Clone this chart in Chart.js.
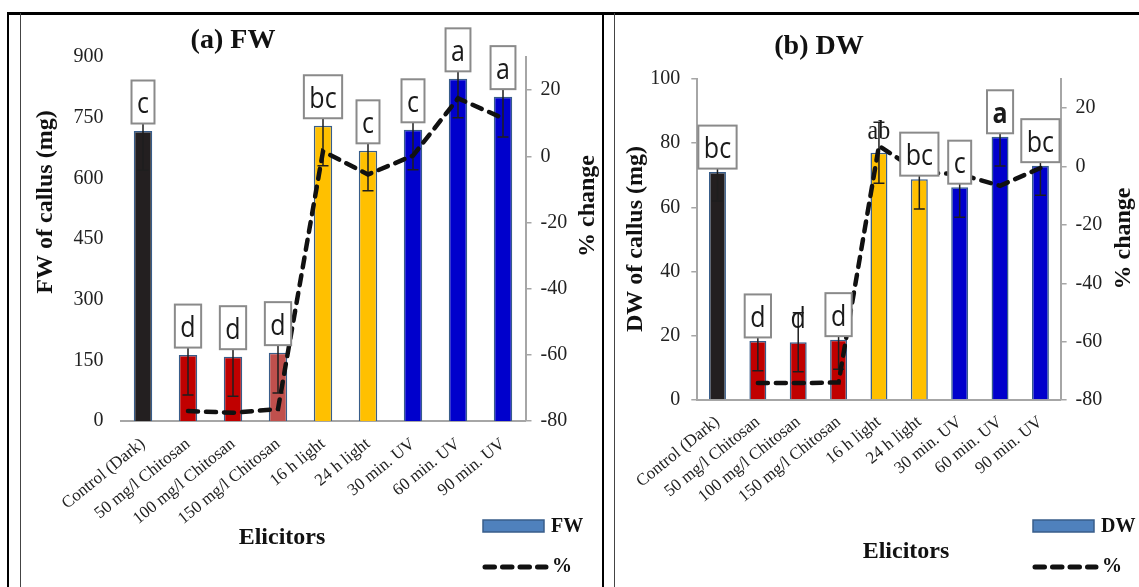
<!DOCTYPE html>
<html>
<head>
<meta charset="utf-8">
<script src="https://cdn.jsdelivr.net/npm/chart.js@4"></script>
<style>
body { margin: 0; background: #fff; width: 1139px; height: 587px; overflow: hidden; position: relative; }
.ln { position: absolute; background: #000; }
canvas { position: absolute; }
</style>
</head>
<body>
<div class="ln" style="left:7px;top:12px;width:1132px;height:2.5px"></div>
<div class="ln" style="left:7px;top:12px;width:2px;height:575px"></div>
<div class="ln" style="left:19.5px;top:13px;width:1.2px;height:574px;background:#444"></div>
<div class="ln" style="left:601.5px;top:12px;width:2.5px;height:575px"></div>
<div class="ln" style="left:613.5px;top:13px;width:1.2px;height:574px;background:#444"></div>
<canvas id="fw" width="580" height="572" style="left:21px;top:15px"></canvas>
<canvas id="dw" width="523" height="572" style="left:616px;top:15px"></canvas>
<script>
const categories = ['Control (Dark)', '50 mg/l Chitosan', '100 mg/l Chitosan', '150 mg/l Chitosan',
    '16 h light', '24 h light', '30 min. UV', '60 min. UV', '90 min. UV'];

const fwValues = [717, 163, 159, 169, 730, 668, 720, 846, 802];
const fwErrors = [97, 99, 98, 100, 99, 99, 99, 96, 100];
const fwChange = [null, -77, -77.5, -76.4, 1.5, -5.5, 0.2, 17.5, 11.5];
const fwLetters = ['c', 'd', 'd', 'd', 'bc', 'c', 'c', 'a', 'a'];

const dwValues = [71, 18.4, 18, 18.8, 77, 68.8, 66.3, 82, 73];
const dwErrors = [9, 9.3, 9.2, 9.2, 9.5, 9.3, 9.4, 9.1, 9.2];
const dwChange = [null, -74.2, -74.2, -74, 7.1, -2, -2.6, -6.6, -0.5];
const dwLetters = ['bc', 'd', 'd', 'd', 'ab', 'bc', 'c', 'a', 'bc'];

const fwTicks = [0, 150, 300, 450, 600, 750, 900];
const dwTicks = [0, 20, 40, 60, 80, 100];
const changeTicks = [-80, -60, -40, -20, 0, 20];

const fwColors = ['#231f20', '#c00000', '#c00000', '#c0504d', '#ffc000', '#ffc000', '#0000cc', '#0000cc', '#0000cc'];
const dwColors = ['#231f20', '#c00000', '#c00000', '#c00000', '#ffc000', '#ffc000', '#0000cc', '#0000cc', '#0000cc'];

const serif = "'Liberation Serif', 'Times New Roman', serif";
const sans = "'Open Sans', 'Liberation Sans', sans-serif";
const axisGray = '#a6a6a6';

function panelPlugin(cfg) {
    return {
        id: 'panel_' + cfg.name,
        afterDatasetDraw(chart, args) {
            // error bars, right after the bars so the % line sits on top
            if (args.index !== 0) return;
            const ctx = chart.ctx;
            const y = chart.scales.y;
            ctx.save();
            ctx.strokeStyle = '#1e1e1e';
            ctx.lineWidth = 1.5;
            chart.getDatasetMeta(0).data.forEach((bar, i) => {
                const yt = y.getPixelForValue(cfg.values[i] + cfg.errors[i]);
                const yb = y.getPixelForValue(cfg.values[i] - cfg.errors[i]);
                ctx.beginPath();
                ctx.moveTo(bar.x, yt); ctx.lineTo(bar.x, yb);
                ctx.moveTo(bar.x - 5.5, yt); ctx.lineTo(bar.x + 5.5, yt);
                ctx.moveTo(bar.x - 5.5, yb); ctx.lineTo(bar.x + 5.5, yb);
                ctx.stroke();
            });
            ctx.restore();
        },
        afterDatasetsDraw(chart) {
            // significance letters
            const ctx = chart.ctx;
            chart.getDatasetMeta(0).data.forEach((bar, i) => {
                const txt = cfg.letters[i];
                const boxBottom = bar.y - cfg.boxGap;
                const base = boxBottom - 10.5;
                ctx.save();
                ctx.textAlign = 'center';
                ctx.textBaseline = 'alphabetic';
                if (cfg.noBox.includes(i)) {
                    ctx.font = (cfg.serifIdx.includes(i) ? '24px ' + serif : '25px ' + sans);
                } else {
                    ctx.font = (cfg.boldIdx.includes(i) ? 'bold ' : '') + '25px ' + sans;
                    const w = ctx.measureText(txt).width + 11;
                    ctx.fillStyle = '#fff';
                    ctx.fillRect(bar.x - w / 2, boxBottom - 43, w, 43);
                    ctx.strokeStyle = '#8a8a8a';
                    ctx.lineWidth = 2;
                    ctx.strokeRect(bar.x - w / 2, boxBottom - 43, w, 43);
                }
                ctx.fillStyle = '#1a1a1a';
                ctx.translate(bar.x, base);
                ctx.scale(1, 1.15);
                ctx.fillText(txt, 0, 0);
                ctx.restore();
            });
        },
        afterDraw(chart) {
            const ctx = chart.ctx;
            ctx.save();
            ctx.fillStyle = '#111';
            ctx.textAlign = 'center';
            ctx.textBaseline = 'middle';
            ctx.font = 'bold 28px ' + serif;
            ctx.fillText(cfg.title, cfg.titlePos[0], cfg.titlePos[1]);
            ctx.font = 'bold 24px ' + serif;
            ctx.fillText('Elicitors', cfg.xTitlePos[0], cfg.xTitlePos[1]);
            [[cfg.yTitle, cfg.yTitlePos], ['% change', cfg.y2TitlePos]].forEach(([t, p]) => {
                ctx.save();
                ctx.translate(p[0], p[1]);
                ctx.rotate(-Math.PI / 2);
                ctx.fillText(t, 0, 0);
                ctx.restore();
            });
            // legend
            const [lx, ly] = cfg.legendPos;
            ctx.fillStyle = '#4f81bd';
            ctx.fillRect(lx, ly, 61, 12);
            ctx.strokeStyle = '#385d8a';
            ctx.lineWidth = 1.5;
            ctx.strokeRect(lx, ly, 61, 12);
            ctx.fillStyle = '#111';
            ctx.textAlign = 'left';
            ctx.font = 'bold 20px ' + serif;
            ctx.fillText(cfg.name, lx + 68, ly + 7);
            ctx.strokeStyle = '#111';
            ctx.lineWidth = 5;
            ctx.lineCap = 'round';
            ctx.setLineDash([9.5, 8]);
            ctx.beginPath();
            ctx.moveTo(lx + 2, ly + 47);
            ctx.lineTo(lx + 63, ly + 47);
            ctx.stroke();
            ctx.setLineDash([]);
            ctx.fillText('%', lx + 69, ly + 47);
            ctx.restore();
        }
    };
}

function makePanel(canvasId, cfg) {
    const ctx = document.getElementById(canvasId).getContext('2d');
    return new Chart(ctx, {
        type: 'bar',
        data: {
            labels: categories,
            datasets: [
                {
                    label: cfg.name,
                    data: cfg.values,
                    backgroundColor: cfg.colors,
                    borderColor: '#385d8a',
                    borderWidth: 1.5,
                    categoryPercentage: 1,
                    barPercentage: cfg.barPct,
                    yAxisID: 'y',
                    order: 2
                },
                {
                    type: 'line',
                    label: '%',
                    data: cfg.change,
                    yAxisID: 'y2',
                    borderColor: '#111',
                    borderWidth: 4.5,
                    borderDash: [10, 8],
                    borderCapStyle: 'round',
                    pointRadius: 0,
                    tension: 0,
                    order: 1
                }
            ]
        },
        options: {
            responsive: false,
            animation: false,
            layout: { padding: { top: cfg.padTop, left: 0, right: 0, bottom: 0 } },
            plugins: { legend: { display: false }, tooltip: { enabled: false } },
            scales: {
                x: {
                    grid: { display: false, drawTicks: false },
                    border: { color: axisGray, width: 2 },
                    ticks: { font: { family: serif, size: 17 }, color: '#222', maxRotation: 39, minRotation: 39, padding: cfg.xPad, autoSkip: false },
                    afterFit: s => { s.height = cfg.xHeight; }
                },
                y: {
                    position: 'left',
                    min: cfg.yMin,
                    max: cfg.yMax,
                    afterBuildTicks: s => { s.ticks = cfg.ticks.map(v => ({ value: v })); },
                    grid: { drawOnChartArea: false, display: cfg.leftAxisLine, color: axisGray, lineWidth: 1.5, tickLength: 6, drawTicks: cfg.leftAxisLine },
                    border: { display: cfg.leftAxisLine, color: axisGray, width: 2 },
                    ticks: { font: { family: serif, size: 20 }, color: '#222', padding: cfg.leftPad },
                    afterFit: s => { s.width = cfg.yWidth; }
                },
                y2: {
                    position: 'right',
                    min: -80,
                    max: 30,
                    afterBuildTicks: s => { s.ticks = changeTicks.map(v => ({ value: v })); },
                    grid: { drawOnChartArea: false, color: axisGray, lineWidth: 1.5, tickLength: 6 },
                    border: { color: axisGray, width: 2 },
                    ticks: { font: { family: serif, size: 20 }, color: '#222', padding: 9 },
                    afterFit: s => { s.width = cfg.y2Width; }
                }
            }
        },
        plugins: [panelPlugin(cfg)]
    });
}

makePanel('fw', {
    name: 'FW', title: '(a) FW', yTitle: 'FW of callus (mg)',
    values: fwValues, errors: fwErrors, change: fwChange, letters: fwLetters, colors: fwColors,
    ticks: fwTicks, yMin: 0, yMax: 900,
    noBox: [], serifIdx: [], boldIdx: [], boxGap: 7.5,
    barPct: 0.41, padTop: 42, xHeight: 166, yWidth: 99.5, y2Width: 75.5,
    leftAxisLine: false, leftPad: 17, xPad: 13,
    titlePos: [212, 26], xTitlePos: [261, 523], yTitlePos: [25, 187], y2TitlePos: [566.5, 191],
    legendPos: [462, 505]
});

makePanel('dw', {
    name: 'DW', title: '(b) DW', yTitle: 'DW of callus (mg)',
    values: dwValues, errors: dwErrors, change: dwChange, letters: dwLetters, colors: dwColors,
    ticks: dwTicks, yMin: 0, yMax: 100,
    noBox: [2, 4], serifIdx: [4], boldIdx: [7], boxGap: 3.5,
    barPct: 0.42, padTop: 64, xHeight: 187, yWidth: 81.3, y2Width: 78.4,
    leftAxisLine: true, leftPad: 11, xPad: 12,
    titlePos: [203, 32], xTitlePos: [290, 537], yTitlePos: [19.5, 224], y2TitlePos: [508, 223.5],
    legendPos: [417, 505]
});
</script>
</body>
</html>
